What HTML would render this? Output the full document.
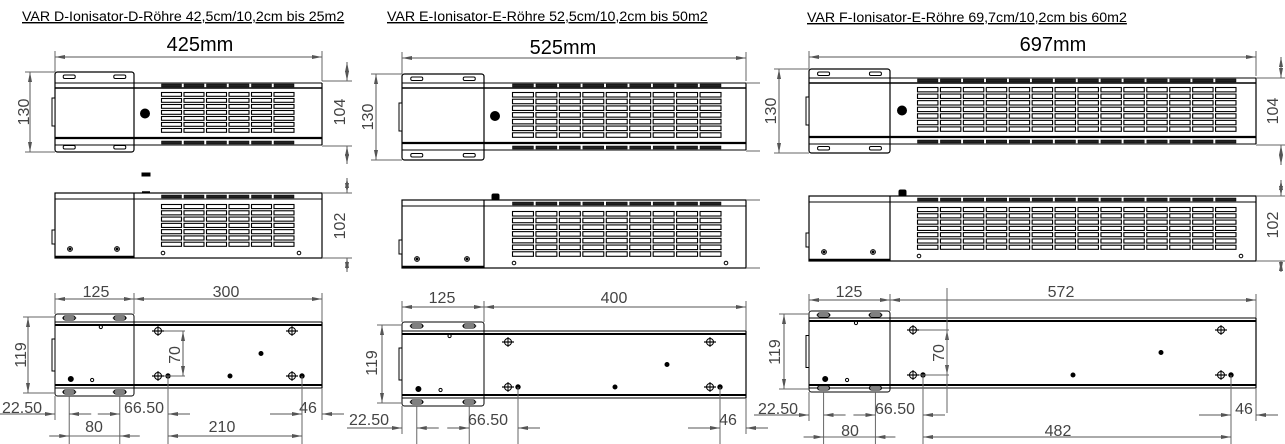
<!DOCTYPE html>
<html><head><meta charset="utf-8"><style>
html,body{margin:0;padding:0;background:#fff;width:1285px;height:444px;overflow:hidden}
svg{display:block}
text{font-family:"Liberation Sans",sans-serif}
.t{font-size:14.2px;fill:#000;text-decoration:underline}
.m{font-size:20px;fill:#000}
.d{font-size:16px;fill:#444}
</style></head><body>
<svg id="s" width="1285" height="444" viewBox="0 0 1285 444" xmlns="http://www.w3.org/2000/svg">
<defs>
<marker id="a" markerWidth="10" markerHeight="6" refX="10" refY="3" orient="auto-start-reverse" markerUnits="userSpaceOnUse"><path d="M0,1 L10,3 L0,5z" fill="#555"/></marker>
</defs>
<g id="g"></g>
<text class="t" x="22" y="21">VAR D-Ionisator-D-Röhre 42,5cm/10,2cm bis 25m2</text>
<text class="t" x="387" y="21">VAR E-Ionisator-E-Röhre 52,5cm/10,2cm bis 50m2</text>
<text class="t" x="807" y="22">VAR F-Ionisator-E-Röhre 69,7cm/10,2cm bis 60m2</text>
<text class="m" x="200" y="51" text-anchor="middle">425mm</text>
<text class="m" x="563" y="54" text-anchor="middle">525mm</text>
<text class="m" x="1053" y="51" text-anchor="middle">697mm</text>
<text class="d" transform="translate(29,112) rotate(-90)" text-anchor="middle">130</text>
<text class="d" transform="translate(345,112) rotate(-90)" text-anchor="middle">104</text>
<text class="d" transform="translate(345,226) rotate(-90)" text-anchor="middle">102</text>
<text class="d" x="96" y="297" text-anchor="middle">125</text>
<text class="d" x="226" y="297" text-anchor="middle">300</text>
<text class="d" transform="translate(26,355) rotate(-90)" text-anchor="middle">119</text>
<text class="d" transform="translate(180,355) rotate(-90)" text-anchor="middle">70</text>
<text class="d" x="22" y="413" text-anchor="middle">22.50</text>
<text class="d" x="144" y="413" text-anchor="middle">66.50</text>
<text class="d" x="308" y="413" text-anchor="middle">46</text>
<text class="d" x="94" y="432" text-anchor="middle">80</text>
<text class="d" x="222" y="432" text-anchor="middle">210</text>
<text class="d" transform="translate(373,117) rotate(-90)" text-anchor="middle">130</text>
<text class="d" x="442" y="303" text-anchor="middle">125</text>
<text class="d" x="614" y="303" text-anchor="middle">400</text>
<text class="d" transform="translate(377,363) rotate(-90)" text-anchor="middle">119</text>
<text class="d" x="369" y="425" text-anchor="middle">22.50</text>
<text class="d" x="488" y="425" text-anchor="middle">66.50</text>
<text class="d" x="728" y="425" text-anchor="middle">46</text>
<text class="d" transform="translate(776,111) rotate(-90)" text-anchor="middle">130</text>
<text class="d" transform="translate(1278,111) rotate(-90)" text-anchor="middle">104</text>
<text class="d" transform="translate(1278,225) rotate(-90)" text-anchor="middle">102</text>
<text class="d" x="849" y="297" text-anchor="middle">125</text>
<text class="d" x="1061" y="297" text-anchor="middle">572</text>
<text class="d" transform="translate(780,352) rotate(-90)" text-anchor="middle">119</text>
<text class="d" transform="translate(944,353) rotate(-90)" text-anchor="middle">70</text>
<text class="d" x="778" y="414" text-anchor="middle">22.50</text>
<text class="d" x="895" y="414" text-anchor="middle">66.50</text>
<text class="d" x="1244" y="414" text-anchor="middle">46</text>
<text class="d" x="850" y="436" text-anchor="middle">80</text>
<text class="d" x="1058" y="436" text-anchor="middle">482</text>
</svg>
<script>
var G=document.getElementById('g'),NS='http://www.w3.org/2000/svg';
function el(t,a){var e=document.createElementNS(NS,t);for(var k in a)e.setAttribute(k,a[k]);G.appendChild(e);return e;}
function L(x1,y1,x2,y2,w,c){el('line',{x1:x1,y1:y1,x2:x2,y2:y2,stroke:c||'#000','stroke-width':w||1});}
function R(x,y,w,h,f,sw,rx){el('rect',{x:x,y:y,width:w,height:h,fill:f||'none',stroke:'#000','stroke-width':sw||1,rx:rx||0});}
function C(x,y,r,f){el('circle',{cx:x,cy:y,r:r,fill:f?'#000':'#fff',stroke:'#000','stroke-width':1});}
function D(x1,y1,x2,y2){el('line',{x1:x1,y1:y1,x2:x2,y2:y2,stroke:'#555','stroke-width':1,'marker-start':'url(#a)','marker-end':'url(#a)'});}
function E(x1,y1,x2,y2){L(x1,y1,x2,y2,1,'#666');}
function A1(x1,y,x2){el('line',{x1:x1,y1:y,x2:x2,y2:y,stroke:'#555','stroke-width':1,'marker-end':'url(#a)'});}
function grid(x0,x1,n,y0,y1,rows){var w=(x1-x0)/n,p=(y1-y0)/rows;
 for(var i=0;i<n;i++)for(var j=0;j<rows;j++)R(x0+i*w+0.5,y0+j*p+0.5,w-2.5,p-2.2,'#fff',1.1);}
function strip(x0,x1,n,y,h){var w=(x1-x0)/n;for(var i=0;i<n;i++)R(x0+i*w+0.5,y,w-2.5,h,'#222',0.5);}
function cross(x,y){C(x,y,3.5,0);L(x-6,y,x+6,y,1.2);L(x,y-5,x,y+5,1);}
function col(o){
 var bx=o.bx,bx2=o.bx2,ex=o.ex,T=o.top,S=o.side,B=o.bot;
 D(bx,o.dy,ex,o.dy);E(bx,o.dy-6,bx,T.y0);E(ex,o.dy-6,ex,T.r1-2);
 R(bx,T.y0,bx2-bx,T.y1-T.y0,'#fff',1.2,2.5);
 L(bx,T.r1,ex,T.r1,1);L(bx,T.r1+5,ex,T.r1+5,1.5);
 L(bx,T.r2,ex,T.r2,2.2);L(bx,T.r2+7,ex,T.r2+7,1);
 L(ex,T.r1,ex,T.r2+7,1.2);
 strip(o.vx0,o.vx1,o.n,T.r1+1,3);strip(o.vx0,o.vx1,o.n,T.r2+3,3);
 grid(o.vx0,o.vx1,o.n,T.r1+9,T.r2-4,7);
 C(o.cx,(T.r1+T.r2)/2+3,4.5,1);
 [0.18,0.82].forEach(function(p){var sx=bx+(bx2-bx)*p;R(sx-6,T.y0+3,12,3.5,'#fff',1,1.5);R(sx-6,T.y1-6.5,12,3.5,'#fff',1,1.5);});
 R(bx-3,(T.y0+T.y1)/2-14,3,28,'#fff',1);
 D(o.lx,T.y0,o.lx,T.y1);E(o.lx-5,T.y0,bx,T.y0);E(o.lx-5,T.y1,bx,T.y1);
 R(bx,S.y0,ex-bx,S.y1-S.y0,'#fff',1.2);L(bx,S.y0+6,ex,S.y0+6,1);L(bx2,S.y0,bx2,S.y1,1.2);
 L(bx,S.y1-1,bx2,S.y1-1,2.5);
 strip(o.vx0,o.vx1,o.n,S.y0+2,3);grid(o.vx0,o.vx1,o.n,S.y0+11,S.y1-10,7);
 R(bx-3,S.y1-28,3,14,'#fff',1);
 C(bx+15,S.y1-9,2.4,0);C(bx+15,S.y1-9,1,1);C(bx2-17,S.y1-9,2.4,0);C(bx2-17,S.y1-9,1,1);C(o.vx0+2,S.y1-5,1.8,0);C(o.vx1+3,S.y1-5,1.8,0);
 if(o.knob)R(o.cx-3,S.y0-6,7,6,'#000',1,1.5);
 D(bx,B.dy,bx2,B.dy);D(bx2,B.dy,ex,B.dy);E(bx,B.dy-6,bx,B.y0);E(bx2,B.dy-6,bx2,B.y0);E(ex,B.dy-6,ex,B.r1);
 R(bx,B.y0,bx2-bx,B.y1-B.y0,'#fff',1,2.5);
 L(bx,B.r1,ex,B.r1,1);L(bx,B.r1+3,ex,B.r1+3,2);L(bx,B.r2,ex,B.r2,2);L(bx,B.r2+3,ex,B.r2+3,1);L(ex,B.r1,ex,B.r2+3,1.2);
 var s1=bx+(bx2-bx)*0.18,s2=bx+(bx2-bx)*0.82;
 [s1,s2].forEach(function(sx){R(sx-6,B.y0+2,12,4,'#fff',1,2);R(sx-6,B.y1-6,12,4,'#fff',1,2);L(sx-7,B.y0+4,sx+7,B.y0+4,1);L(sx-7,B.y1-4,sx+7,B.y1-4,1);});
 R(bx-3,(B.y0+B.y1)/2-16,3,32,'#fff',1);
 var hy1=B.h1,hy2=B.h2;
 cross(o.hx1,hy1);cross(o.hx2,hy1);cross(o.hx1,hy2);cross(o.hx2,hy2);
 C(o.hx1+10,hy2,2.2,1);C(o.hx2+10,hy2,2.2,1);C(o.dot1,hy2,2,1);C(o.dot2,(hy1+hy2)/2,2,1);
 C(bx+(bx2-bx)*0.58,B.r1+5,1.6,0);C(bx+(bx2-bx)*0.2,B.r2-6,2.5,1);C(bx+(bx2-bx)*0.47,B.r2-5,1.6,0);
 D(B.lx,B.y0+3,B.lx,B.y1-3);E(B.lx-5,B.y0+3,bx,B.y0+3);E(B.lx-5,B.y1-3,bx,B.y1-3);
 if(o.v70){D(o.v70,hy1,o.v70,hy2);E(o.hx1+6,hy1,o.v70+2,hy1);E(o.hx1+6,hy2,o.v70+2,hy2);if(o.v70ext)E(o.v70,B.r1-30,o.v70,B.r2+28);}
 var y1=o.by1,y2=o.by2;
 E(bx,B.y1,bx,y1+6);E(s1,B.y1,s1,444);E(s2,B.y1,s2,444);E(o.hx1+10,hy2,o.hx1+10,444);E(o.hx2+10,hy2,o.hx2+10,444);E(ex,B.r2+3,ex,y1+6);
 A1(bx-55,y1,bx);A1(s1+22,y1,s1);A1(s2-22,y1,s2);A1(o.hx1+32,y1,o.hx1+10);
 A1(o.hx2+10-32,y1,o.hx2+10);A1(ex+22,y1,ex);
 if(y2<444){A1(s1-20,y2,s1);A1(s2+20,y2,s2);E(s1,y2,s2,y2);D(o.hx1+10,y2,o.hx2+10,y2);}
}
col({bx:55,bx2:134,ex:322,dy:57,top:{y0:72,y1:152,r1:83,r2:138},side:{y0:193,y1:258},
 bot:{y0:314,y1:396,r1:322,r2:385,dy:299,h1:331,h2:376,lx:28},
 vx0:161,vx1:296,n:6,cx:145,lx:30,knob:false,hx1:158,hx2:292,dot1:230,dot2:261,v70:183,by1:414,by2:436});
R(142,173,8,3,'#000',1);L(142,192,150,192,1.5);
D(347,62,347,81);D(347,164,347,146);E(322,81,352,81);E(322,146,352,146);
D(347,178,347,193);D(347,272,347,258);E(322,193,352,193);E(322,258,352,258);
col({bx:402,bx2:484,ex:746,dy:58,top:{y0:74,y1:160,r1:83,r2:143},side:{y0:200,y1:268},
 bot:{y0:322,y1:406,r1:331,r2:395,dy:307,h1:342,h2:387,lx:382},
 vx0:512,vx1:723,n:9,cx:495,lx:376,knob:true,hx1:508,hx2:710,dot1:615,dot2:667,v70:0,by1:428,by2:460});
E(746,83,760,83);E(746,151,760,151);E(746,200,760,200);E(746,268,760,268);
col({bx:809,bx2:890,ex:1256,dy:57,top:{y0:69,y1:153,r1:78,r2:137},side:{y0:196,y1:261},
 bot:{y0:311,y1:392,r1:318,r2:385,dy:300,h1:330,h2:375,lx:784},
 vx0:917,vx1:1238,n:14,cx:902,lx:779,knob:true,hx1:913,hx2:1221,dot1:1073,dot2:1161,v70:947,v70ext:true,by1:415,by2:437});
D(1281,57,1281,78);D(1281,165,1281,145);E(1256,78,1285,78);E(1256,145,1285,145);
D(1281,180,1281,196);D(1281,272,1281,261);E(1256,196,1285,196);E(1256,261,1285,261);
</script>
</body></html>
